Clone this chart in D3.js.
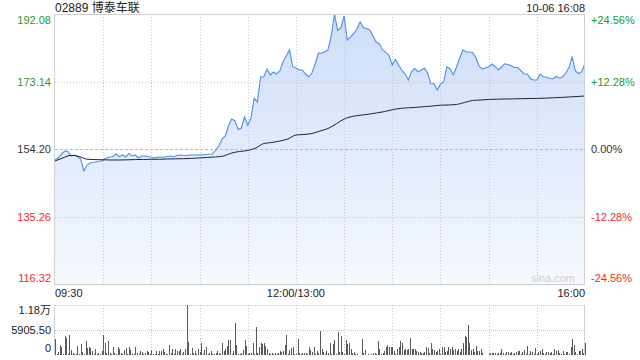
<!DOCTYPE html>
<html>
<head>
<meta charset="utf-8">
<script src="https://cdn.jsdelivr.net/npm/d3@7/dist/d3.min.js"></script>
<style>
  body { margin: 0; background: #fff; }
  svg text { font-family: "Liberation Sans", Arial, "Noto Sans CJK SC", sans-serif; }
</style>
</head>
<body>
<svg class="chart"></svg>
<script>
// one price every 2 minutes from 09:30 (minute 0) to 16:00 (minute 330), lunch break removed
var prevClose = 154.20;
var priceStep = 2;
var prices = [
  151.11, 151.67, 152.80, 153.64, 153.50, 152.24, 152.52, 152.10, 151.39, 148.03,
  149.71, 150.36, 150.41, 150.64, 150.69, 151.11, 151.67, 151.96, 152.04, 152.80,
  152.04, 152.52, 151.96, 152.94, 152.24, 152.52, 151.67, 152.24, 152.24, 152.10,
  151.87, 151.67, 151.96, 151.96, 151.87, 152.10, 152.24, 152.04, 152.38, 152.52,
  152.43, 152.38, 152.52, 152.52, 152.52, 152.52, 152.60, 152.66, 152.74, 152.80,
  153.92, 155.04, 157.01, 157.85, 160.65, 162.62, 162.14, 159.67, 160.09, 163.18,
  160.93, 162.81, 168.43, 167.39, 174.40, 174.40, 176.65, 174.96, 175.81, 175.24,
  176.09, 178.70, 180.30, 181.98, 177.29, 176.93, 176.37, 176.37, 175.24, 174.40,
  175.53, 178.05, 181.14, 181.05, 181.50, 181.98, 185.91, 192.08, 187.45, 188.15,
  191.52, 184.78, 185.63, 186.61, 187.87, 189.84, 188.29, 188.01, 187.59, 185.91,
  184.22, 183.66, 181.98, 181.33, 180.44, 177.77, 179.31, 177.77, 176.23, 175.24,
  173.56, 175.95, 176.79, 175.89, 176.37, 176.84, 175.53, 172.44, 172.58, 170.76,
  172.44, 173.08, 177.26, 176.65, 174.96, 177.21, 179.73, 181.98, 181.50, 181.42,
  181.28, 179.87, 177.49, 176.65, 176.93, 177.29, 178.05, 177.35, 176.37, 177.21,
  178.11, 177.91, 177.57, 177.07, 177.07, 176.23, 175.33, 175.24, 173.93, 173.56,
  173.56, 175.24, 174.49, 174.40, 173.98, 173.84, 174.54, 174.12, 174.40, 175.53,
  177.00, 180.00, 176.09, 175.38, 175.89, 178.25
];

// average price, one value every 5 minutes
var avgStep = 5;
var avgPrices = [
  150.83, 151.73, 152.43, 152.10, 151.34, 151.23, 151.17, 151.11, 151.11, 151.17,
  151.23, 151.28, 151.31, 151.34, 151.39, 151.45, 151.48, 151.56, 151.70, 151.84,
  151.98, 152.24, 153.08, 153.50, 153.78, 154.48, 155.74, 156.02, 156.44, 157.01,
  158.13, 158.27, 158.55, 159.25, 159.95, 161.22, 162.62, 163.32, 163.68, 163.94,
  164.30, 164.69, 165.20, 165.59, 165.76, 165.90, 166.07, 166.27, 166.49, 166.55,
  166.69, 167.25, 167.81, 167.95, 168.09, 168.17, 168.23, 168.26, 168.31, 168.37,
  168.40, 168.45, 168.57, 168.68, 168.79, 168.93, 169.07
];

// volume per minute
var volumes = [
  3830, 300, 640, 2470, 1840, 300, 4390, 3910, 300, 4710,
  1200, 400, 300, 300, 2230, 300, 2630, 640, 300, 3190,
  1600, 1840, 1680, 880, 300, 1360, 300, 400, 300, 1040,
  4630, 2950, 400, 3190, 400, 300, 1840, 560, 300, 2000,
  1360, 400, 300, 1200, 1600, 300, 1840, 1200, 400, 300,
  1840, 400, 300, 1040, 640, 300, 400, 880, 640, 300,
  1200, 300, 240, 1040, 300, 880, 880, 1440, 640, 300,
  300, 2470, 400, 1360, 300, 1520, 1040, 880, 1440, 300,
  640, 1520, 11811, 3030, 300, 1680, 400, 880, 300, 1520,
  640, 2790, 300, 1200, 1840, 300, 400, 880, 300, 240,
  560, 880, 400, 300, 2790, 1040, 1360, 2230, 3430, 3430,
  300, 1040, 7660, 2310, 300, 240, 560, 1200, 3430, 2150,
  300, 400, 400, 2950, 300, 6620, 400, 1840, 2950, 2630,
  2790, 2150, 1360, 480, 300, 400, 240, 400, 300, 400,
  1040, 640, 1040, 2470, 4710, 300, 1200, 1680, 1840, 240,
  300, 3670, 400, 300, 400, 400, 400, 300, 1840, 1200,
  640, 1840, 300, 1040, 400, 5600, 1440, 640, 300, 880,
  400, 2790, 300, 2630, 3590, 300, 5350, 640, 4390, 640,
  300, 3590, 2630, 2870, 1440, 560, 640, 240, 160, 80,
  100, 3830, 400, 1200, 100, 240, 80, 240, 480, 480,
  200, 3350, 1440, 240, 560, 880, 1840, 2470, 2000, 1840,
  1840, 1040, 300, 1360, 1840, 3190, 2790, 1200, 1440, 1200,
  1360, 4070, 1360, 1440, 1440, 1040, 640, 800, 560, 400,
  720, 2000, 1680, 560, 2870, 1440, 1200, 640, 880, 1440,
  300, 1840, 1840, 720, 1040, 1840, 1440, 2000, 1200, 1520,
  1040, 1440, 640, 1440, 2790, 4390, 4230, 7020, 2950, 1200,
  1360, 640, 2230, 880, 1040, 1440, 400, 100, 80, 80,
  200, 400, 560, 560, 560, 300, 480, 400, 1440, 480,
  300, 640, 640, 480, 640, 300, 560, 640, 880, 880,
  300, 800, 1200, 240, 2230, 300, 1040, 640, 240, 1680,
  300, 640, 880, 1440, 400, 300, 800, 640, 560, 640,
  300, 1360, 880, 1200, 400, 300, 880, 240, 640, 800,
  300, 1840, 3830, 2310, 640, 300, 1040, 880, 1440, 400,
  2950
];

var priceTicks = [192.08, 173.14, 154.20, 135.26, 116.32];
var pctTicks = ["+24.56%", "+12.28%", "0.00%", "-12.28%", "-24.56%"];
var volTicks = [11811, 5905.5, 0];
var volTickLabels = ["1.18万", "5905.50", "0"];
var timeTicks = [0, 150, 330];
var timeLabels = ["09:30", "12:00/13:00", "16:00"];
var title = "02889 博泰车联";
var stamp = "10-06 16:08";

var width = 640, height = 360;
var plot = {left: 55, right: 585, top: 14, bottom: 284};
var vol = {top: 305, bottom: 355};

var green = "#1c9c1c", red = "#ee2b2b", dark = "#333", grid = "#c8c8c8";

var x = d3.scaleLinear().domain([0, 330]).range([plot.left, plot.right]);
var y = d3.scaleLinear().domain([116.32, 192.08]).range([plot.bottom, plot.top]);
var yv = d3.scaleLinear().domain([0, 11811]).range([vol.bottom, vol.top]);

var chart = d3.select(".chart")
    .attr("width", width)
    .attr("height", height);

function tickColor(i) { return i < 2 ? green : (i == 2 ? dark : red); }

// gradient fill under price
var grad = chart.append("defs").append("linearGradient")
    .attr("id", "priceFill")
    .attr("gradientUnits", "userSpaceOnUse")
    .attr("x1", 0).attr("y1", plot.top)
    .attr("x2", 0).attr("y2", plot.bottom);
grad.append("stop").attr("offset", "0%").attr("stop-color", "#cddef9");
grad.append("stop").attr("offset", "100%").attr("stop-color", "#f5f8fe");

// price area first, grid goes over it
var area = d3.area()
    .x(function(d, i) { return x(i * priceStep); })
    .y0(plot.bottom)
    .y1(function(d) { return y(d); });

var line = d3.line()
    .x(function(d, i) { return x(i * priceStep); })
    .y(function(d) { return y(d); });

chart.append("path")
    .datum(prices)
    .attr("fill", "url(#priceFill)")
    .attr("d", area);

// vertical grid, every 30 minutes
var gridMinutes = d3.range(30, 330, 30);
chart.append("g").selectAll("line")
    .data(gridMinutes)
  .enter().append("line")
    .attr("x1", function(d) { return Math.round(x(d)) + 0.5; })
    .attr("x2", function(d) { return Math.round(x(d)) + 0.5; })
    .attr("y1", plot.top).attr("y2", plot.bottom)
    .attr("stroke", grid).attr("stroke-dasharray", "1,2");

chart.append("g").selectAll("line")
    .data(gridMinutes)
  .enter().append("line")
    .attr("x1", function(d) { return Math.round(x(d)) + 0.5; })
    .attr("x2", function(d) { return Math.round(x(d)) + 0.5; })
    .attr("y1", vol.top).attr("y2", vol.bottom)
    .attr("stroke", grid).attr("stroke-dasharray", "1,2");

// horizontal grid
chart.append("g").selectAll("line")
    .data([priceTicks[1], priceTicks[3]])
  .enter().append("line")
    .attr("x1", plot.left).attr("x2", plot.right)
    .attr("y1", function(d) { return Math.round(y(d)) + 0.5; })
    .attr("y2", function(d) { return Math.round(y(d)) + 0.5; })
    .attr("stroke", grid).attr("stroke-dasharray", "1,2");

// previous close line
chart.append("line")
    .attr("x1", plot.left).attr("x2", plot.right)
    .attr("y1", Math.round(y(prevClose)) + 0.5)
    .attr("y2", Math.round(y(prevClose)) + 0.5)
    .attr("stroke", "#bbb").attr("stroke-dasharray", "3,2");

chart.append("path")
    .datum(prices)
    .attr("fill", "none")
    .attr("stroke", "#4b8ef0")
    .attr("stroke-width", 1.1)
    .attr("d", line);

var avgLine = d3.line()
    .x(function(d, i) { return x(i * avgStep); })
    .y(function(d) { return y(d); })
    .curve(d3.curveMonotoneX);

chart.append("path")
    .datum(avgPrices)
    .attr("fill", "none")
    .attr("stroke", "#1e2633")
    .attr("stroke-width", 1)
    .attr("d", avgLine);

// frame of the price panel
chart.append("rect")
    .attr("x", plot.left - 0.5).attr("y", plot.top + 0.5)
    .attr("width", plot.right - plot.left)
    .attr("height", plot.bottom - plot.top)
    .attr("fill", "none").attr("stroke", "#d0d0d0");

// volume panel
chart.append("g").selectAll("line")
    .data([volTicks[0], volTicks[1]])
  .enter().append("line")
    .attr("x1", plot.left).attr("x2", plot.right)
    .attr("y1", function(d) { return Math.round(yv(d)) + 0.5; })
    .attr("y2", function(d) { return Math.round(yv(d)) + 0.5; })
    .attr("stroke", grid).attr("stroke-dasharray", "1,1");

chart.append("g").selectAll("rect")
    .data(volumes)
  .enter().append("rect")
    .attr("x", function(d, i) { return Math.round(x(i)); })
    .attr("y", function(d) { return yv(d); })
    .attr("width", 1)
    .attr("height", function(d) { return vol.bottom - yv(d); })
    .attr("fill", "#5a5a5a")
    .attr("shape-rendering", "crispEdges");

chart.append("line")
    .attr("x1", plot.left - 0.5).attr("x2", plot.left - 0.5)
    .attr("y1", vol.top).attr("y2", vol.bottom)
    .attr("stroke", "#d0d0d0");
chart.append("line")
    .attr("x1", plot.right - 0.5).attr("x2", plot.right - 0.5)
    .attr("y1", vol.top).attr("y2", vol.bottom)
    .attr("stroke", "#d0d0d0");

// labels
chart.append("text")
    .attr("x", plot.left)
    .attr("y", 12)
    .style("font-size", "12px")
    .attr("fill", "#222")
    .text(title);

chart.append("text")
    .attr("x", plot.right)
    .attr("y", 12)
    .attr("text-anchor", "end")
    .style("font-size", "11px")
    .attr("fill", "#222")
    .text(stamp);

function labelY(i) {
  if (i == 0) return plot.top + 10;
  if (i == priceTicks.length - 1) return plot.bottom - 2;
  return y(priceTicks[i]) + 4;
}

chart.append("g").selectAll("text")
    .data(priceTicks)
  .enter().append("text")
    .attr("x", plot.left - 4)
    .attr("y", function(d, i) { return labelY(i); })
    .attr("text-anchor", "end")
    .style("font-size", "11px")
    .attr("fill", function(d, i) { return tickColor(i); })
    .text(function(d) { return d.toFixed(2); });

chart.append("g").selectAll("text")
    .data(pctTicks)
  .enter().append("text")
    .attr("x", plot.right + 6)
    .attr("y", function(d, i) { return labelY(i); })
    .style("font-size", "11px")
    .attr("fill", function(d, i) { return tickColor(i); })
    .text(function(d) { return d; });

chart.append("g").selectAll("text")
    .data(timeTicks)
  .enter().append("text")
    .attr("x", function(d) { return x(d); })
    .attr("y", plot.bottom + 13)
    .attr("text-anchor", function(d, i) { return i == 0 ? "start" : (i == 2 ? "end" : "middle"); })
    .style("font-size", "11px")
    .attr("fill", "#222")
    .text(function(d, i) { return timeLabels[i]; });

chart.append("g").selectAll("text")
    .data(volTicks)
  .enter().append("text")
    .attr("x", plot.left - 4)
    .attr("y", function(d, i) { return i == 0 ? vol.top + 9 : (i == 2 ? vol.bottom - 3 : yv(d) + 4); })
    .attr("text-anchor", "end")
    .style("font-size", "11px")
    .attr("fill", "#222")
    .text(function(d, i) { return volTickLabels[i]; });

chart.append("text")
    .attr("x", plot.right - 10)
    .attr("y", plot.bottom - 2)
    .attr("text-anchor", "end")
    .style("font-size", "11px")
    .attr("fill", "#d0d0d0")
    .text("sina.com");
</script>
</body>
</html>
